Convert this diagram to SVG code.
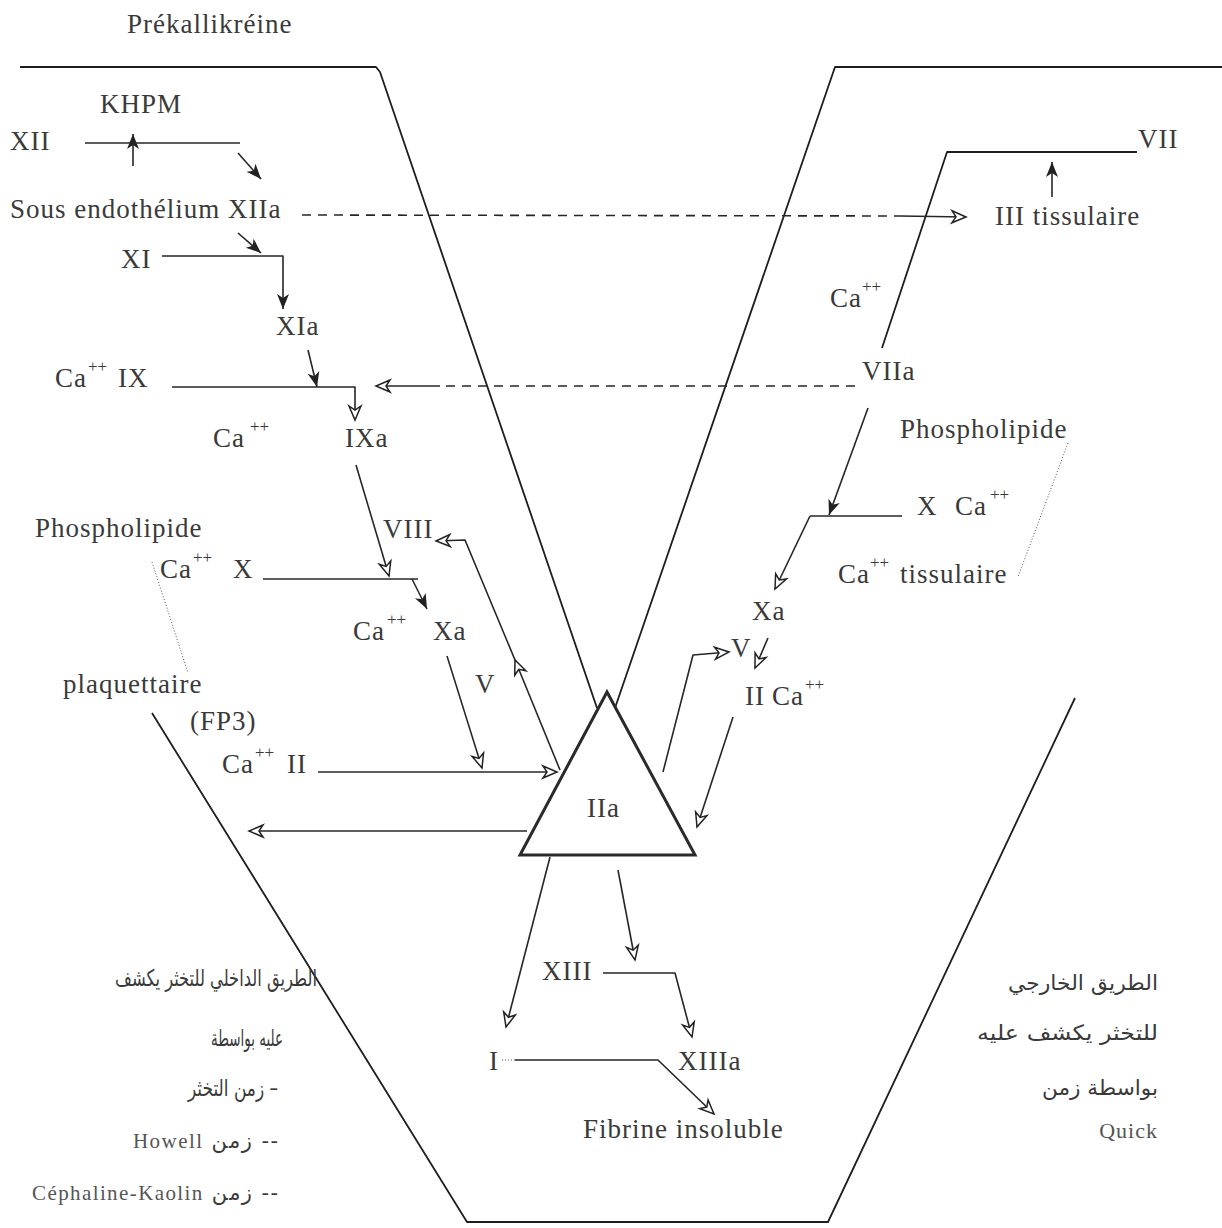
<svg xmlns="http://www.w3.org/2000/svg" width="1222" height="1228" viewBox="0 0 1222 1228">
<style>
.t{font-family:"Liberation Serif","Times New Roman",serif;font-size:27px;letter-spacing:1px;fill:#3a3a3a}
.s{font-size:17px;letter-spacing:0}
.ar{font-family:"DejaVu Sans",sans-serif;font-size:21px;fill:#3a3a3a;text-anchor:end}
.big{font-size:23px}
.lat{font-family:"Liberation Serif",serif;fill:#555}
.arl{font-family:"Liberation Serif",serif;font-size:22px;letter-spacing:1px;fill:#555;text-anchor:end}
.ln{fill:none;stroke:#262626;stroke-width:1.6;stroke-linejoin:round}
.fr{fill:none;stroke:#1e1e1e;stroke-width:1.8;stroke-linejoin:round}
.dash{stroke-dasharray:9,7}
.dot{fill:none;stroke:#555;stroke-width:1;stroke-dasharray:1,2}
.fa{marker-end:url(#filled)}
.oa{marker-end:url(#open)}
</style>
<defs>
<marker id="filled" markerUnits="userSpaceOnUse" markerWidth="18" markerHeight="14" refX="15" refY="6" orient="auto" overflow="visible">
<path d="M0,0 L15,6 L0,12 L4,6 Z" fill="#222"/>
</marker>
<marker id="open" markerUnits="userSpaceOnUse" markerWidth="18" markerHeight="14" refX="14" refY="6" orient="auto" overflow="visible">
<path d="M0,0 L14,6 L0,12 L4,6 Z" fill="#fff" stroke="#222" stroke-width="1.5"/>
</marker>
</defs>
<rect width="1222" height="1228" fill="#fff"/>

<g id="frame">
<polyline class="fr" points="20,67 376,67 380,72 597,708"/>
<polyline class="fr" points="1222,67 835,67 615,708"/>
<polyline class="fr" points="152,713 467,1222 828,1222 1075,698"/>
<polyline class="fr" points="1137,152 947,152 882,348"/>
</g>

<g id="connectors">
<line class="ln fa" x1="133" y1="166" x2="133" y2="134"/>
<line class="ln" x1="85" y1="143" x2="240" y2="143"/>
<line class="ln fa" x1="238" y1="153" x2="261" y2="179"/>
<line class="ln dash" x1="302" y1="215" x2="900" y2="216"/>
<line class="ln oa" x1="900" y1="216" x2="966" y2="217"/>
<line class="ln fa" x1="238" y1="233" x2="261" y2="253"/>
<polyline class="ln fa" points="162,256 283,256 283,309"/>
<line class="ln fa" x1="308" y1="350" x2="317" y2="387"/>
<polyline class="ln oa" points="172,387 355,387 355,420"/>
<line class="ln dash" x1="855" y1="386" x2="440" y2="386"/>
<line class="ln oa" x1="440" y1="386" x2="376" y2="386"/>
<line class="ln oa" x1="356" y1="465" x2="389" y2="576"/>
<line class="ln" x1="263" y1="579" x2="418" y2="579"/>
<line class="ln fa" x1="412" y1="579" x2="427" y2="609"/>
<line class="ln oa" x1="447" y1="656" x2="482" y2="768"/>
<line class="ln oa" x1="318" y1="772" x2="557" y2="772"/>
<line class="ln oa" x1="527" y1="831" x2="249" y2="831"/>
<line class="ln oa" x1="560" y1="770" x2="515" y2="660"/>
<polyline class="ln oa" points="515,660 465,540 436,541"/>
<line class="ln fa" x1="868" y1="408" x2="829" y2="515"/>
<line class="ln" x1="810" y1="516" x2="902" y2="516"/>
<line class="ln oa" x1="810" y1="516" x2="775" y2="589"/>
<line class="ln oa" x1="768" y1="638" x2="755" y2="668"/>
<polyline class="ln oa" points="663,772 693,655 729,652"/>
<line class="ln oa" x1="733" y1="717" x2="697" y2="827"/>
<line class="ln oa" x1="550" y1="857" x2="506" y2="1027"/>
<line class="ln oa" x1="618" y1="870" x2="635" y2="960"/>
<polyline class="ln oa" points="603,973 675,973 692,1037"/>
<line class="dot" x1="502" y1="1060" x2="515" y2="1060"/>
<polyline class="ln oa" points="515,1060 658,1060 714,1114"/>
<line class="dot" x1="152" y1="562" x2="188" y2="673"/>
<line class="dot" x1="1068" y1="443" x2="1018" y2="577"/>
<line class="ln fa" x1="1052" y1="197" x2="1052" y2="162"/>
</g>

<g id="n-prekallikreine"><text class="t" x="127" y="33">Prékallikréine</text></g>
<g id="n-khpm"><text class="t" x="100" y="113">KHPM</text></g>
<g id="n-xii"><text class="t" x="10" y="150">XII</text></g>
<g id="n-sous-endothelium"><text class="t" x="10" y="218">Sous endothélium</text></g>
<g id="n-xiia"><text class="t" x="228" y="218">XIIa</text></g>
<g id="n-iii-tissulaire"><text class="t" x="995" y="225">III tissulaire</text></g>
<g id="n-vii"><text class="t" x="1138" y="148">VII</text></g>
<g id="n-xi"><text class="t" x="121" y="268">XI</text></g>
<g id="n-xia"><text class="t" x="276" y="335">XIa</text></g>
<g id="n-ca-vii"><text class="t"><tspan x="830" y="307">Ca</tspan><tspan class="s" x="862" y="292">++</tspan></text></g>
<g id="n-viia"><text class="t" x="862" y="380">VIIa</text></g>
<g id="n-ix"><text class="t"><tspan x="55" y="387">Ca</tspan><tspan class="s" x="88" y="372">++</tspan><tspan x="118" y="387">IX</tspan></text></g>
<g id="n-ca-ixa"><text class="t"><tspan x="213" y="447">Ca</tspan><tspan class="s" x="250" y="432">++</tspan></text></g>
<g id="n-ixa"><text class="t" x="345" y="447">IXa</text></g>
<g id="n-phospholipide-r"><text class="t" x="900" y="438">Phospholipide</text></g>
<g id="n-viii"><text class="t" x="383" y="538">VIII</text></g>
<g id="n-phospholipide-l"><text class="t" x="35" y="537">Phospholipide</text></g>
<g id="n-x-r"><text class="t"><tspan x="917" y="515">X</tspan><tspan x="955" y="515">Ca</tspan><tspan class="s" x="990" y="500">++</tspan></text></g>
<g id="n-x-l"><text class="t"><tspan x="160" y="578">Ca</tspan><tspan class="s" x="193" y="563">++</tspan><tspan x="233" y="578">X</tspan></text></g>
<g id="n-ca-tissulaire"><text class="t"><tspan x="838" y="583">Ca</tspan><tspan class="s" x="870" y="568">++</tspan><tspan x="900" y="583">tissulaire</tspan></text></g>
<g id="n-xa-r"><text class="t" x="752" y="620">Xa</text></g>
<g id="n-xa-l"><text class="t"><tspan x="353" y="640">Ca</tspan><tspan class="s" x="387" y="625">++</tspan><tspan x="433" y="640">Xa</tspan></text></g>
<g id="n-v-l"><text class="t" x="475" y="693">V</text></g>
<g id="n-v-r"><text class="t" x="731" y="657">V</text></g>
<g id="n-plaquettaire"><text class="t" x="63" y="693">plaquettaire</text></g>
<g id="n-fp3"><text class="t" x="190" y="730">(FP3)</text></g>
<g id="n-ii-r"><text class="t"><tspan x="745" y="705">II</tspan><tspan x="772" y="705">Ca</tspan><tspan class="s" x="805" y="690">++</tspan></text></g>
<g id="n-ii-l"><text class="t"><tspan x="222" y="773">Ca</tspan><tspan class="s" x="255" y="758">++</tspan><tspan x="287" y="773">II</tspan></text></g>
<g id="n-iia">
<polygon points="607,692 520,855 695,855" fill="none" stroke="#2a2a2a" stroke-width="3" stroke-linejoin="miter"/>
<text class="t" x="587" y="817">IIa</text>
</g>
<g id="n-xiii"><text class="t" x="542" y="980">XIII</text></g>
<g id="n-i"><text class="t" x="489" y="1070">I</text></g>
<g id="n-xiiia"><text class="t" x="678" y="1070">XIIIa</text></g>
<g id="n-fibrine"><text class="t" x="583" y="1138">Fibrine insoluble</text></g>

<g id="n-intrinseque">
<text class="ar big" x="317" y="986" textLength="202" lengthAdjust="spacingAndGlyphs">الطريق الداخلي للتخثر يكشف</text>
<text class="ar big" x="283" y="1046" textLength="72" lengthAdjust="spacingAndGlyphs">عليه بواسطة</text>
<text class="ar big" x="278" y="1096" textLength="90" lengthAdjust="spacingAndGlyphs">زمن التخثر –</text>
<text class="ar" x="278" y="1148" textLength="145" lengthAdjust="spacing"><tspan class="lat">Howell</tspan> زمن --</text>
<text class="ar" x="278" y="1200" textLength="246" lengthAdjust="spacing"><tspan class="lat">Céphaline-Kaolin</tspan> زمن --</text>
</g>
<g id="n-extrinseque">
<text class="ar" x="1158" y="990" textLength="150" lengthAdjust="spacingAndGlyphs">الطريق الخارجي</text>
<text class="ar" x="1158" y="1040" textLength="181" lengthAdjust="spacingAndGlyphs">للتخثر يكشف عليه</text>
<text class="ar" x="1158" y="1095" textLength="116" lengthAdjust="spacingAndGlyphs">بواسطة زمن</text>
<text class="arl" x="1158" y="1138">Quick</text>
</g>
</svg>
